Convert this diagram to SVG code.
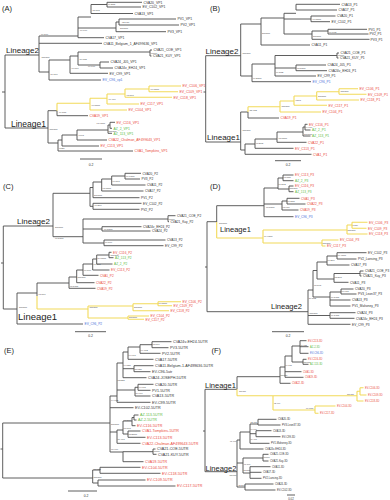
<svg xmlns="http://www.w3.org/2000/svg" width="390" height="500" viewBox="0 0 390 500">
<style>
text{font-family:"Liberation Sans",Arial,sans-serif;fill:#333}
.e{fill:none;stroke:#4d4d4d;stroke-width:0.9}
.y{fill:none;stroke:#f2da5a;stroke-width:1.1}
.r{fill:#ea4a3c}
.g{fill:#5dbb45}
.u{fill:#4a6fd8}
.la{font-size:3.4px}
.lb{font-size:3.3px}
.lc{font-size:3.2px}
.le{font-size:3.7px}
.lf{font-size:2.6px}
.bs{font-size:2.2px;fill:#444}
.bf{font-size:1.9px;fill:#444}
.tn{font-size:1.7px;fill:#444}
.ln{fill:#222}
.pl{font-size:7.5px;fill:#222}
.sc{font-size:3.4px;text-anchor:middle}
</style>
<rect width="390" height="500" fill="#fff"/>

<!-- ================= Panel A ================= -->
<g id="panelA">
<text class="pl" x="2" y="11">(A)</text>
<g id="A-connectors">
<path class="e" d="M2,92H5 M5,55V128 M5,55H39 M39,36V72 M39,36H78 M78,17V37.7 M78,17H91 M91,4.5V13.5 M91,4.5H107 M107,2.3V7 M107,2.3H142 M107,7H141 M91,13.5H133 M78,28H116 M116,22V31.7 M116,22H119 M119,19V25 M119,19H176 M119,25H179 M116,31.7H166 M78,37.7H104 M39,43.3H102 M39,72H49 M49,60V80 M49,60H70 M70,56V73.3 M70,56H78 M78,52V65 M78,52H150 M150,50V56 M150,50H152 M150,56H151.5 M78,65H100 M100,62V68 M100,62H109 M100,68H113 M70,73.3H108 M49,80H101 M5,128H48 M48,110.7V143 M48,110.7H57 M57,110.7V115.7 M57,115.7H88 M48,143H58 M58,140V151 M58,140H62 M62,135V146 M62,135H77 M77,130V140 M77,130H108 M108,125V133.3 M108,125H110 M110,122.3V128.3 M110,122.3H115 M110,128.3H112 M108,133.3H112 M77,140H107 M62,146H99 M58,151H133 M80,159H102"/>
<path class="y" d="M57,103.3V110.7 M57,103.3H90 M90,98.3V110 M90,98.3H107 M107,94V104 M107,94H125 M125,89V97.3 M125,89H149 M149,86V91.7 M149,86H181 M149,91.7H178 M125,97.3H172 M107,104H139 M90,110H127"/>
</g>
<g id="A-lineages">
<text class="ln" x="6" y="53" font-size="8">Lineage2</text>
<text class="ln" x="11" y="126.5" font-size="8.5">Lineage1</text>
</g>
<g id="A-leaves" class="la">
<text x="143.5" y="3.5">CVA20_VP1</text>
<text x="142.5" y="8.2">EV_C102_VP1</text>
<text x="134.5" y="14.7">CVA13_VP1</text>
<text x="177.5" y="20.2">PV1_VP1</text>
<text x="180.5" y="26.2">PV2_VP1</text>
<text x="167.5" y="32.9">PV3_VP1</text>
<text x="105.5" y="38.9">CVA17_VP1</text>
<text x="103.5" y="44.5">CVA11_Belgium_1_AF499636_VP1</text>
<text x="153.5" y="51.2">CVA21_COE_VP1</text>
<text x="153" y="57.2">CVA21_KUY_VP1</text>
<text x="110.5" y="63.2">CVA24_J05_VP1</text>
<text x="114.5" y="69.2">CVA24v_EH24_VP1</text>
<text x="109.5" y="74.5">EV_C99_VP1</text>
<text class="u" x="102.5" y="81.2">EV_C96_vp1</text>
<text class="r" x="182.5" y="87.2">EV_C106_VP1</text>
<text class="r" x="179.5" y="92.9">EV_C109_VP1</text>
<text class="r" x="173.5" y="98.5">EV_C118_VP1</text>
<text class="r" x="140.5" y="105.2">EV_C117_VP1</text>
<text class="r" x="128.5" y="111.2">EV_C104_VP1</text>
<text class="r" x="89.5" y="116.9">CVA19_VP1</text>
<text class="r" x="116.5" y="123.5">EV_C116_VP1</text>
<text class="g" x="113.5" y="129.5">AZ_2_VP1</text>
<text class="g" x="113.5" y="134.5">AZ_113_VP1</text>
<text class="r" x="108.5" y="141.2">CVA22_Chulman_AF499643_VP1</text>
<text class="r" x="100.5" y="147.2">EV_C113_VP1</text>
<text class="r" x="134.5" y="152.2">CVA1_Tompkins_VP1</text>
</g>
<g id="A-support" class="bs">
<text x="108" y="5.4">99.3/81</text>
<text x="92.5" y="10.5">77.1/98</text>
<text x="80" y="30.5">99.9/99</text>
<text x="120" y="28.5">100/100</text>
<text x="122" y="23">92.9/70</text>
<text x="41" y="35">99.7/99</text>
<text x="41.5" y="57.5">100/100</text>
<text x="50.5" y="74.5">84.1/99</text>
<text x="71.5" y="68.5">99.6/99</text>
<text x="79.5" y="59.5">79.7/75</text>
<text x="88" y="66.8">99.9/99</text>
<text class="tn" x="151" y="54.2">100/100</text>
<text x="59" y="112.5">99.7/87</text>
<text x="91.5" y="106">99.8/100</text>
<text x="108.5" y="100">99.4/99</text>
<text x="126.5" y="95.5">97.8/97</text>
<text x="150.5" y="89.6">99.7/100</text>
<text x="49.5" y="130">100/100</text>
<text x="96.5" y="124">97.9/100</text>
<text x="108.5" y="131.7">100/100</text>
<text x="78.5" y="135.5">99/91</text>
<text x="59" y="149">97/57</text>
</g>
<text class="sc" x="91" y="165.5">0.2</text>
</g>

<!-- ================= Panel B ================= -->
<g id="panelB">
<text class="pl" x="210" y="10.5">(B)</text>
<g id="B-connectors">
<path class="e" d="M203.5,92H205.7 M205.7,55.7V142 M205.7,55.7H240.7 M240.7,24V76 M240.7,24H261 M261,18V45 M261,18H284 M284,13.3V34 M284,13.3H296 M296,4.3V10 M296,4.3H340 M296,10H337 M284,19H311 M311,16V21.7 M311,16H335.5 M311,21.7H330 M284,34H312 M312,31V39.3 M312,31H328 M328,29.3V34 M328,29.3H367 M328,34H368.5 M312,39.3H369.5 M261,45H310 M240.7,76H252 M252,64V81.7 M252,64H275 M275,55.5V76 M275,55.5H337 M337,53V58 M337,53H339 M337,58H338.5 M275,68H296 M296,65V70.7 M296,65H326 M296,70.7H327 M275,76H316 M252,81.7H311 M205.7,142H240.7 M240.7,112V150 M240.7,112H248 M248,112V118 M248,118H279 M240.7,150H245 M245,144V154.3 M245,144H255 M255,139V148.3 M255,139H277 M277,132V142.3 M277,132H303 M303,127V136 M303,127H305 M305,124.3V130 M305,124.3H307.5 M305,130H310.5 M303,136H310.5 M277,142.3H306.5 M255,148.3H293.5 M245,154.3H311.5 M275,160.7H301"/>
<path class="y" d="M248,106.7V112 M248,106.7H280 M280,101V112 M280,101H294 M294,96V105.3 M294,96H316.7 M316.7,91.7V100 M316.7,91.7H339 M339,88.7V94.3 M339,88.7H358 M339,94.3H366.5 M316.7,100H359 M294,105.3H327 M280,112H321"/>
</g>
<g id="B-lineages">
<text class="ln" x="205.5" y="53.5" font-size="8">Lineage2</text>
<text class="ln" x="207" y="139.8" font-size="8">Lineage1</text>
</g>
<g id="B-leaves" class="lb">
<text x="341.5" y="5.5">CVA13_P1</text>
<text x="338.5" y="11.2">CVA17_P1</text>
<text x="337" y="17.2">CVA20_P1</text>
<text x="331.5" y="22.9">EV_C102_P1</text>
<text x="368.5" y="30.5">PV1_P1</text>
<text x="369.5" y="35.2">PV2_P1</text>
<text x="370.5" y="40.5">PV3_P1</text>
<text x="311.5" y="46.2">CVA11_P1</text>
<text x="340.5" y="54.2">CVA21_COE_P1</text>
<text x="340" y="59.2">CVA21_KUY_P1</text>
<text x="327.5" y="66.2">CVA24_J05_P1</text>
<text x="328.5" y="71.9">CVA24v_EH24_P1</text>
<text x="317.5" y="77.2">EV_C99_P1</text>
<text class="u" x="312.5" y="82.9">EV_C96_P1</text>
<text class="r" x="359.5" y="89.9">EV_C106_P1</text>
<text class="r" x="368" y="95.5">EV_C109_P1</text>
<text class="r" x="360.5" y="101.2">EV_C118_P1</text>
<text class="r" x="328.5" y="106.5">EV_C117_P1</text>
<text class="r" x="322.5" y="113.2">EV_C104_P1</text>
<text class="r" x="280.5" y="119.2">CVA19_P1</text>
<text class="r" x="309" y="125.5">EV_C116_P1</text>
<text class="g" x="312" y="131.2">AZ_2_P1</text>
<text class="g" x="312" y="137.2">AZ_113_P1</text>
<text class="r" x="308" y="143.5">CVA22_P1</text>
<text class="r" x="295" y="149.5">EV_C113_P1</text>
<text class="r" x="313" y="155.5">CVA1_P1</text>
</g>
<g id="B-support" class="bs">
<text x="242.5" y="54">100/100</text>
<text x="262" y="34">100/100</text>
<text x="312.5" y="20.3">99.8/100</text>
<text x="313" y="36.5">100/100</text>
<text x="329" y="32.5">99.9/93</text>
<text x="253" y="78.5">99.3/100</text>
<text x="276" y="73">99.1/82</text>
<text x="297" y="68.5">98.8/100</text>
<text class="tn" x="338" y="56.4">100/100</text>
<text x="242.5" y="131">100/100</text>
<text x="249.5" y="110.8">75.4/73</text>
<text x="281.5" y="106.5">100/100</text>
<text x="295.5" y="101.2">98/97</text>
<text x="318" y="96.5">100/100</text>
<text x="340.5" y="92.2">100/100</text>
<text class="tn" x="305.5" y="128.2">99.4/100</text>
<text x="304" y="134.8">100/100</text>
<text x="278.5" y="138.5">98.1/100</text>
<text x="256" y="143.8">90.2/95</text>
</g>
<text class="sc" x="288" y="165.5">0.2</text>
</g>

<!-- ================= Panel C ================= -->
<g id="panelC">
<text class="pl" x="3" y="188.5">(C)</text>
<g id="C-connectors">
<path class="e" d="M1,263H3.3 M3.3,226V309 M3.3,226H53 M53,193.3V236.7 M53,193.3H90 M90,187.5V206.3 M90,187.5H93 M93,182V197.7 M93,182H101.7 M101.7,179V191 M101.7,179H111.7 M111.7,176V185 M111.7,176H125 M125,173.3V179 M125,173.3H141 M125,179H140 M111.7,185H145.5 M101.7,191H143.5 M93,197.7H139.5 M90,206.3H93 M93,203.3V209.3 M93,203.3H141.5 M93,209.3H139.5 M53,236.7H83 M83,219V243 M83,219H168 M168,215.7V221.7 M168,215.7H175.5 M168,221.7H169 M83,229H102 M102,226.7V231 M102,226.7H141.5 M102,231H150.5 M83,243H104 M104,240V245.7 M104,240H165.5 M104,245.7H163.5 M3.3,309H17 M17,293V324 M17,324H83 M17,293H37 M37,283V296 M37,283H69 M69,277V288.3 M69,277H76.7 M76.7,270V282.7 M76.7,270H83 M83,264V275.3 M83,264H92.7 M92.7,259V270 M92.7,259H96.7 M96.7,255V264 M96.7,255H109 M109,252.3V257.7 M109,252.3H111.5 M109,257.7H113.5 M96.7,264H112.5 M92.7,270H109.5 M83,275.3H98.5 M76.7,282.7H94.5 M69,288.3H95.5 M75,331.7H106"/>
<path class="y" d="M37,296V309 M37,309H88 M88,306V318 M88,306H133 M133,303.7V310.7 M133,303.7H158 M158,301.7V305.7 M158,301.7H181 M158,305.7H172 M133,310.7H169 M88,318H128 M128,316V319.3 M128,316H149 M128,319.3H144"/>
</g>
<g id="C-lineages">
<text class="ln" x="17" y="223.8" font-size="8">Lineage2</text>
<text class="ln" x="18" y="319.5" font-size="9.5">Lineage1</text>
</g>
<g id="C-leaves" class="lc">
<text x="142.5" y="174.5">CVA20_P2</text>
<text x="141.5" y="180.2">PV3_P2</text>
<text x="147" y="186.2">CVA11_P2</text>
<text x="145" y="192.2">CVA17_P2</text>
<text x="141" y="198.9">PV1_P2</text>
<text x="143" y="204.5">EV_C102_P2</text>
<text x="141" y="210.5">PV2_P2</text>
<text x="177" y="216.9">CVA21_COE_P2</text>
<text x="170.5" y="222.9">CVA21_Kuy_P2</text>
<text x="143" y="227.9">CVA24v_EH24_P2</text>
<text x="152" y="232.2">CVA24_P2</text>
<text x="167" y="241.2">CVA13_P2</text>
<text x="165" y="246.9">EV_C99_P2</text>
<text class="r" x="113" y="253.5">EV_C116_P2</text>
<text class="g" x="115" y="258.9">AZ_113_P2</text>
<text class="g" x="114" y="265.2">AZ_2_P2</text>
<text class="r" x="111" y="271.2">EV_C113_P2</text>
<text class="r" x="100" y="276.5">CVA1_P2</text>
<text class="r" x="96" y="283.9">CVA22_P2</text>
<text class="r" x="97" y="289.5">CVA19_P2</text>
<text class="r" x="182.5" y="302.9">EV_C106_P2</text>
<text class="r" x="173.5" y="306.9">EV_C109_P2</text>
<text class="r" x="170.5" y="311.9">EV_C118_P2</text>
<text class="r" x="150.5" y="317.2">EV_C104_P2</text>
<text class="r" x="145.5" y="320.5">EV_C117_P2</text>
<text class="u" x="84.5" y="325.2">EV_C96_P2</text>
</g>
<g id="C-support" class="bs">
<text x="55" y="228">100/100</text>
<text x="94" y="196.3">100/100</text>
<text x="94.5" y="205.5">99.3/99</text>
<text x="102.5" y="188.5">91.1/100</text>
<text x="112.5" y="181.8">99.8/97</text>
<text x="126" y="176.8">99.9/100</text>
<text x="55" y="239">97.1/100</text>
<text class="tn" x="168.5" y="219.5">100/100</text>
<text x="104" y="229.8">99.8/100</text>
<text x="105" y="243">99.6/99</text>
<text x="19" y="307.6">100/100</text>
<text x="38.5" y="295">97.8/99</text>
<text x="110.5" y="255.6">100/100</text>
<text x="97.5" y="258.5">84.6/100</text>
<text x="93.5" y="264.6">99.2/87</text>
<text x="84" y="270.6">99.6/99</text>
<text x="77.5" y="278.2">100/100</text>
<text x="69.8" y="286.6">97.8/100</text>
<text x="89.5" y="307.8">100/100</text>
<text x="134" y="308.2">100/100</text>
<text x="158.5" y="304.3">99.8/100</text>
<text x="129" y="318.2">100/100</text>
</g>
<text class="sc" x="90.5" y="336.5">0.2</text>
</g>

<!-- ================= Panel D ================= -->
<g id="panelD">
<text class="pl" x="210" y="188.5">(D)</text>
<g id="D-connectors">
<path class="e" d="M205,267H207 M207,221.7V311.7 M207,221.7H216.7 M216.7,205.7V222 M216.7,205.7H264 M264,188V216.7 M264,188H278 M278,178V189 M278,178H283 M283,175V180.7 M283,175H293.5 M283,180.7H293.5 M278,189H289 M289,186V191.7 M289,186H293.5 M289,191.7H293.5 M264,204H282 M282,201V210 M282,201H287 M287,198.3V204 M287,198.3H299.5 M287,204H305.5 M282,210H298.5 M264,216.7H293.5 M207,311.7H308 M308,290V324.3 M308,290H313 M313,270.5V297 M313,270.5H317 M317,262V279 M317,262H327 M327,256V265 M327,256H337 M337,252.7V259 M337,252.7H366.5 M337,259H356.5 M327,265H349.5 M317,279H334 M334,273.5V282.3 M334,273.5H360 M360,271V276 M360,271H363.5 M360,276H361.5 M334,282.3H348.5 M313,297H330 M330,292V306 M330,292H341 M341,289V294 M341,289H353.5 M341,294H356.5 M330,300H350.5 M330,306H350.5 M308,315.5H330 M330,312.7V318.3 M330,312.7H355.5 M330,318.3H354.5 M308,324.3H350.5 M272,331.7H304"/>
<path class="y" d="M216.7,222V238 M216.7,238H263 M263,230V243 M263,230H347 M347,225V234 M347,225H352 M352,222.3V228.3 M352,222.3H367.5 M352,228.3H366.5 M347,234H367.5 M263,243H322 M322,240V246 M322,240H338.5 M322,246H325.5"/>
</g>
<g id="D-lineages">
<text class="ln" x="220" y="232" font-size="7.5">Lineage1</text>
<text class="ln" x="271" y="309.3" font-size="7.5">Lineage2</text>
</g>
<g id="D-leaves" class="lc">
<text class="r" x="295" y="176.2">EV_C113_P3</text>
<text class="g" x="295" y="181.9">AZ_2_P3</text>
<text class="r" x="295" y="187.2">EV_C116_P3</text>
<text class="g" x="295" y="192.9">AZ_113_P3</text>
<text class="r" x="301" y="199.5">CVA1_P3</text>
<text class="r" x="307" y="205.2">CVA22_P3</text>
<text class="r" x="300" y="211.2">CVA19_P3</text>
<text class="u" x="295" y="217.9">EV_C96_P3</text>
<text class="r" x="369" y="223.5">EV_C106_P3</text>
<text class="r" x="368" y="229.5">EV_C109_P3</text>
<text class="r" x="369" y="235.2">EV_C118_P3</text>
<text class="r" x="340" y="241.2">EV_C104_P3</text>
<text class="r" x="327" y="247.2">EV_C117_P3</text>
<text x="368" y="253.9">EV_C102_P3</text>
<text x="358" y="260.2">PV2_Lansing_P3</text>
<text x="351" y="266.2">CVA17_P3</text>
<text x="365" y="272.2">CVA21_COE_P3</text>
<text x="363" y="277.2">CVA21_Kuy_P3</text>
<text x="350" y="283.5">CVA11_P3</text>
<text x="355" y="290.2">CVA20_P3</text>
<text x="358" y="295.2">PV3_Leon37_P3</text>
<text x="352" y="301.2">CVA13_P3</text>
<text x="352" y="307.2">PV1_Mahoney_P3</text>
<text x="357" y="313.9">CVA24_P3</text>
<text x="356" y="319.5">CVA24v_EH24_P3</text>
<text x="352" y="325.5">EV_C99_P3</text>
</g>
<g id="D-support" class="bs">
<text x="219" y="224.2">100/100</text>
<text x="266" y="207.8">96.8/100</text>
<text x="278.5" y="184.5">99.5/95</text>
<text x="283.5" y="178.3">97.8/80</text>
<text x="289.5" y="189.3">100/100</text>
<text x="287.5" y="201.6">99.5/87</text>
<text x="282.5" y="207.5">97.9/79</text>
<text x="264" y="237.3">99.4/100</text>
<text x="347.5" y="230.8">100/100</text>
<text x="352.5" y="225.8">99/54</text>
<text x="322.5" y="243.8">100/100</text>
<text x="309.5" y="314">100/100</text>
<text x="308.7" y="299">79.7/83</text>
<text x="314" y="285.5">98.7/91</text>
<text x="337.5" y="256.3">99.4/100</text>
<text x="327.5" y="260.8">99.3/99</text>
<text x="334.5" y="277.8">95.3/98</text>
<text class="tn" x="360.5" y="274.2">100/100</text>
<text x="341.5" y="292">99.9/77</text>
<text x="330.8" y="297.8">99.8/100</text>
<text x="330.8" y="316.2">99.7/100</text>
</g>
<text class="sc" x="288" y="337">0.2</text>
</g>

<!-- ================= Panel E ================= -->
<g id="panelE">
<text class="pl" x="4" y="352.5">(E)</text>
<g id="E-connectors">
<path class="e" d="M0.5,449H2.7 M2.7,423V478 M2.7,423H110 M110,396V452 M110,396H117 M117,363V402.3 M117,363H123 M123,352V377.7 M123,352H128 M128,347V359.3 M128,347H140 M140,344.7V353.3 M140,344.7H152 M152,341.7V347.7 M152,341.7H171.5 M152,347.7H168.5 M140,353.3H160.5 M128,359.3H153.5 M123,368.7H134 M134,365.7V371.7 M134,365.7H153.5 M134,371.7H150.5 M123,377.7H146.5 M117,390H135 M135,387.3V396 M135,387.3H138 M138,384.3V390.3 M138,384.3H153.5 M138,390.3H150.5 M135,396H150.5 M117,402.3H150.5 M110,407.7H133.5 M110,432H117 M117,430V443.3 M117,430H123 M123,421V434 M123,421H132 M132,417.5V425.7 M132,417.5H134 M134,415V420 M134,415H138.5 M134,420H136.5 M132,425.7H135.5 M123,434H128 M128,431V437.3 M128,431H140.5 M128,437.3H145.5 M117,443.3H140.5 M110,452H123 M123,451.7V461.7 M123,451.7H153 M153,449V454.3 M153,449H155.5 M153,454.3H156.5 M123,461.7H143.5 M2.7,478H92.7 M92.7,470V483 M92.7,470H100 M100,467.3V473.3 M100,467.3H140.5 M100,473.3H160.5 M92.7,483H98 M98,480V486 M98,480H145.5 M98,486H175.5 M68,491H97"/>
</g>
<g id="E-leaves" class="le">
<text x="173" y="343">CVA24v-EH24-5UTR</text>
<text x="170" y="349">PV3-5UTR</text>
<text x="162" y="354.6">PV2-5UTR</text>
<text x="155" y="360.6">CVA17-5UTR</text>
<text x="155" y="367">CVA11-Belgium-1-AF499636-5UTR</text>
<text x="152" y="373">EV-C96-5utr</text>
<text x="148" y="379">CVA24-JOSEPH-5UTR</text>
<text x="155" y="385.6">CVA20-5UTR</text>
<text x="152" y="391.6">PV1-5UTR</text>
<text x="152" y="397.3">CVA13-5UTR</text>
<text x="152" y="403.6">EV-C99-5UTR</text>
<text x="135" y="409">EV-C102-5UTR</text>
<text class="g" x="140" y="416.3">AZ-113-5UTR</text>
<text class="g" x="138" y="421.3">AZ-2-5UTR</text>
<text class="r" x="137" y="427">EV-C116-5UTR</text>
<text class="r" x="142" y="432.3">CVA1-Tompkins-5UTR</text>
<text class="r" x="147" y="438.6">EV-C113-5UTR</text>
<text class="r" x="142" y="444.6">CVA22-Chulman-AF499643-5UTR</text>
<text x="157" y="450.3">CVA21-COE-5UTR</text>
<text x="158" y="455.6">CVA21-KUY-5UTR</text>
<text class="r" x="145" y="463">CVA19-5UTR</text>
<text class="r" x="142" y="468.6">EV-C104-5UTR</text>
<text class="r" x="162" y="474.6">EV-C118-5UTR</text>
<text class="r" x="147" y="481.3">EV-C109-5UTR</text>
<text class="r" x="177" y="487.3">EV-C117-5UTR</text>
</g>
<g id="E-support" class="bs">
<text x="152.5" y="345.3">98.7/99</text>
<text x="140.5" y="350.5">94.4/92</text>
<text x="128.5" y="355.5">94.9/97</text>
<text x="123.5" y="366">94.8/56</text>
<text x="134.5" y="369.5">76.0/56</text>
<text x="117.5" y="381">95.5/57</text>
<text x="138.5" y="388">94.9/98</text>
<text x="135.5" y="393.5">84.9/99</text>
<text x="111" y="401">94.4/92</text>
<text x="111" y="425.3">100/100</text>
<text x="124" y="420.5">97.1/99</text>
<text x="128.5" y="435">98.2/100</text>
<text x="123.5" y="428.5">96.1/98</text>
<text x="117.5" y="440.3">79.4/97</text>
<text x="111" y="449.7">96.4/99</text>
<text class="tn" x="153.5" y="452.3">100/100</text>
<text x="93.5" y="470.2">77.0/85</text>
<text x="93.5" y="478">100/100</text>
</g>
<text class="sc" x="86" y="497">0.2</text>
</g>

<!-- ================= Panel F ================= -->
<g id="panelF">
<text class="pl" x="211.5" y="352.5">(F)</text>
<g id="F-connectors">
<path class="e" d="M203,431H205 M205,389.3V471.7 M205,389.3H237 M237,376.7V389.3 M237,376.7H280 M280,367V383.3 M280,367H285 M285,356V377.3 M285,356H292 M292,346V362 M292,346H300 M300,340.7V353.3 M300,340.7H306.5 M300,346.7H308.5 M300,353.3H308.5 M292,362H303 M303,359.3V364.3 M303,359.3H306.5 M303,364.3H308.5 M285,371.7H301.5 M285,377.3H303.5 M280,383.3H290.5 M205,471.7H237 M237,440V487 M237,440H240 M240,432V449 M240,432H250 M250,424V443.3 M250,424H258 M258,419.3V425 M258,419.3H276.5 M258,425H280.5 M250,433.7H256 M256,430.7V436.7 M256,430.7H271.5 M256,436.7H280.5 M250,443.3H269.5 M240,449H263.5 M237,463H243 M243,458V473 M243,458H263 M263,454.3V461 M263,454.3H268.5 M263,461H268.5 M243,473H250 M250,466.7V478.3 M250,466.7H270.5 M250,472.3H261.5 M250,478.3H261.5 M237,487H245 M245,484V490 M245,484H273.5 M245,490H275.5 M287,495H295"/>
<path class="y" d="M237,389.3V395.7 M237,395.7H357 M273,395.7V410 M273,410H315 M315,406V413.3 M315,406H335.5 M315,413.3H318.5 M357,391.3V401 M357,391.3H360 M360,387.7V395 M360,387.7H363.5 M360,395H366.5 M357,401H363.5"/>
</g>
<g id="F-lineages">
<text class="ln" x="205" y="387.5" font-size="7.5">Lineage1</text>
<text class="ln" x="205.5" y="471.2" font-size="7.5">Lineage2</text>
</g>
<g id="F-leaves" class="lf">
<text class="r" x="308" y="341.6">EV-C113-3D</text>
<text class="g" x="310" y="347.6">AZ-2-3D</text>
<text class="u" x="310" y="354.2">EV-C96-3D</text>
<text class="r" x="308" y="360.2">EV-C116-3D</text>
<text class="g" x="310" y="365.2">AZ-113-3D</text>
<text class="r" x="303" y="372.6">CVA1-3D</text>
<text class="r" x="305" y="378.2">CVA19-3D</text>
<text class="r" x="292" y="384.2">CVA22-3D</text>
<text class="r" x="365" y="388.6">EV-C106-3D</text>
<text class="r" x="368" y="395.9">EV-C109-3D</text>
<text class="r" x="365" y="401.9">EV-C118-3D</text>
<text class="r" x="337" y="406.9">EV-C104-3D</text>
<text class="r" x="320" y="414.2">EV-C117-3D</text>
<text x="278" y="420.2">CVA20-3D</text>
<text x="282" y="425.9">PV3-Leon37-3D</text>
<text x="273" y="431.6">CVA13-3D</text>
<text x="282" y="437.6">EV-C99-3D</text>
<text x="271" y="444.2">PV1-Mahoney-3D</text>
<text x="265" y="449.9">CVA24v-EH24-3D</text>
<text x="270" y="455.2">CVA21-COE-3D</text>
<text x="270" y="461.9">CVA21-Kuy-3D</text>
<text x="272" y="467.6">CVA11-3D</text>
<text x="263" y="473.2">CVA17-3D</text>
<text x="263" y="479.2">PV2-Lansing-3D</text>
<text x="275" y="484.9">CVA24-3D</text>
<text x="277" y="490.9">EV-C102-3D</text>
</g>
<g id="F-support" class="bf">
<text x="300.5" y="345.6">97.7/82</text>
<text x="303.5" y="362.6">100/100</text>
<text x="285.5" y="366.3">94.7/71</text>
<text x="280.5" y="376">100/100</text>
<text x="239" y="391.8">100/100</text>
<text x="274" y="404">93.4/99</text>
<text x="347" y="394.6">100/100</text>
<text x="306" y="409">99.9/100</text>
<text x="229.5" y="476.3">100/100</text>
<text x="230" y="441.8">91.4/91</text>
<text x="250.5" y="423.2">93.4/67</text>
<text x="250.5" y="429.5">94.9/99</text>
<text x="250.5" y="440">99.4/97</text>
<text x="244" y="464.6">97.7/96</text>
<text class="tn" x="263.5" y="458.3">100/100</text>
<text x="243.5" y="470.5">92.2/98</text>
<text x="238.5" y="485.6">98.5/97</text>
</g>
<text class="sc" x="291" y="499.5" style="font-size:2.8px">0.02</text>
</g>
</svg>
